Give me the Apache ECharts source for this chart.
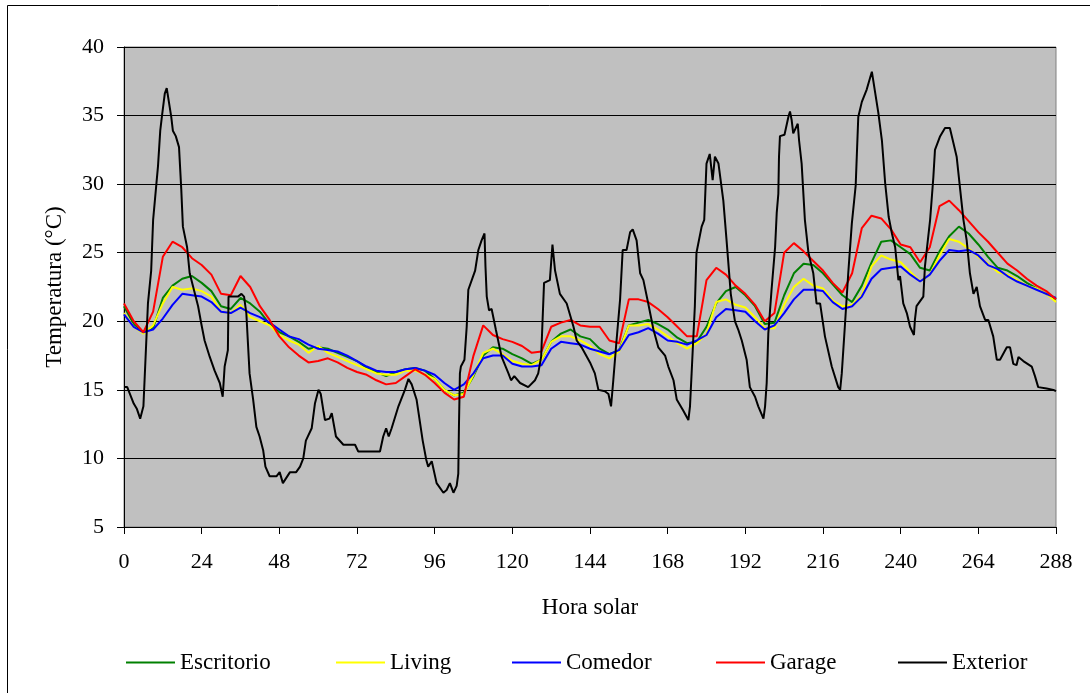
<!DOCTYPE html>
<html>
<head>
<meta charset="utf-8">
<script src="https://cdn.jsdelivr.net/npm/echarts@6/dist/echarts.min.js"></script>
<style>
  html, body { margin: 0; padding: 0; background: #fff; }
  #chart { width: 1090px; height: 693px; }
</style>
</head>
<body>
<div id="chart"></div>
<script>
// horas cada 3 h para las series interiores
var hours3 = [];
for (var h = 0; h <= 288; h += 3) hours3.push(h);

var escritorio = [
  21.1, 19.8, 19.2, 19.5, 21.7, 22.6, 23.1, 23.3, 22.8, 22.2, 21.1, 20.9, 21.7, 21.3, 20.7, 19.8, 19.2,
  18.9, 18.5, 18.0, 18.1, 18.0, 17.7, 17.4, 17.1, 16.6, 16.3, 16.0, 16.3, 16.5, 16.6, 16.4, 15.8,
  15.0, 14.6, 14.8, 16.0, 17.5, 18.1, 18.0, 17.6, 17.3, 16.9, 17.2, 18.5, 19.1, 19.4, 18.9, 18.7,
  18.0, 17.6, 17.9, 19.7, 19.9, 20.1, 19.8, 19.4, 18.8, 18.4, 18.5, 19.6, 21.3, 22.2, 22.5, 21.9,
  21.1, 19.8, 19.9, 21.9, 23.5, 24.2, 24.1, 23.5, 22.7, 21.9, 21.4, 22.6, 24.3, 25.8, 25.9, 25.4,
  24.9, 23.9, 23.7, 25.1, 26.2, 26.9, 26.4, 25.6, 24.7, 23.9, 23.7, 23.3, 22.8, 22.4, 22.0, 21.6
];
var living = [
  20.6, 19.6, 19.1, 19.7, 21.3, 22.5, 22.3, 22.4, 22.2, 21.8, 20.7, 20.6, 21.2, 20.3, 20.0, 19.7, 19.0,
  18.6, 18.3, 17.7, 18.2, 17.7, 17.4, 17.1, 16.8, 16.5, 16.2, 16.1, 16.1, 16.4, 16.4, 16.1, 15.8,
  15.0, 14.6, 14.7, 16.1, 17.7, 18.0, 17.6, 17.1, 16.9, 16.8, 17.2, 18.5, 18.9, 18.9, 18.6, 18.2,
  17.6, 17.3, 17.8, 19.7, 19.7, 19.8, 19.4, 18.9, 18.4, 18.0, 18.4, 19.1, 21.4, 21.6, 21.2, 21.0,
  20.3, 19.5, 19.5, 21.2, 22.5, 23.1, 22.6, 22.4, 21.5, 21.1, 21.2, 21.9, 24.0, 24.8, 24.5, 24.3,
  23.6, 22.9, 23.4, 24.8, 26.0, 25.8, 25.3, 24.7, 24.2, 23.6, 23.4, 23.0, 22.6, 22.4, 22.0, 21.4
];
var comedor = [
  20.5, 19.6, 19.2, 19.4, 20.2, 21.2, 22.0, 21.9, 21.8, 21.4, 20.7, 20.6, 21.0, 20.6, 20.3, 19.9, 19.4,
  18.9, 18.7, 18.3, 18.0, 17.9, 17.8, 17.5, 17.1, 16.7, 16.4, 16.3, 16.3, 16.5, 16.6, 16.4, 16.1,
  15.5, 15.0, 15.4, 16.2, 17.3, 17.5, 17.5, 16.9, 16.7, 16.7, 16.8, 18.0, 18.5, 18.4, 18.3, 18.0,
  17.8, 17.6, 17.9, 19.0, 19.2, 19.5, 19.1, 18.6, 18.5, 18.3, 18.6, 19.0, 20.3, 20.9, 20.8, 20.7,
  20.0, 19.4, 19.7, 20.6, 21.6, 22.3, 22.3, 22.2, 21.4, 20.9, 21.1, 21.8, 23.1, 23.8, 23.9, 24.0,
  23.4, 22.9, 23.4, 24.4, 25.2, 25.1, 25.2, 24.8, 24.1, 23.8, 23.3, 22.9, 22.6, 22.3, 22.0, 21.7
];
var garage = [
  21.3, 20.0, 19.2, 20.7, 24.7, 25.8, 25.4, 24.6, 24.1, 23.4, 22.0, 21.9, 23.3, 22.5, 21.1, 20.1, 18.9,
  18.1, 17.5, 17.0, 17.1, 17.3, 17.0, 16.6, 16.3, 16.1, 15.7, 15.4, 15.5, 16.0, 16.5, 16.1, 15.5,
  14.8, 14.3, 14.5, 17.5, 19.7, 19.0, 18.7, 18.5, 18.2, 17.7, 17.8, 19.6, 19.9, 20.1, 19.7, 19.6,
  19.6, 18.6, 18.4, 21.6, 21.6, 21.4, 20.9, 20.3, 19.6, 18.9, 18.9, 23.0, 23.9, 23.4, 22.6, 22.0,
  21.2, 20.0, 20.6, 25.0, 25.7, 25.1, 24.4, 23.7, 22.8, 22.1, 23.5, 26.8, 27.7, 27.5, 26.7, 25.6,
  25.4, 24.3, 25.4, 28.4, 28.8, 28.1, 27.3, 26.5, 25.8, 25.0, 24.2, 23.7, 23.1, 22.6, 22.2, 21.6
];

// exterior: puntos (hora, temperatura)
var extHours = [
  0, 1, 2, 3, 4, 5, 6,
  7.4, 8.4, 9, 10, 10.5, 11.2, 11.7, 12.6, 13.2, 13.8,
  14.6, 15.1, 16, 17, 17.7, 18.2, 19.5, 20.3, 21.6, 22.9,
  23.9, 24.9, 26.5, 28, 29.6, 30.5, 31.1, 32.1, 32.3, 35.2,
  36.3, 37.1, 37.8, 38.8, 39.9, 40.9, 41.9, 43, 43.7, 45,
  47.1, 48.1, 49.1, 51.3, 53.2, 54.4, 55.4, 56.2, 58, 59,
  60.1, 60.8, 61.6, 62.1, 63.5, 64.2, 65.5, 67.8, 71.4, 72.4,
  79.1, 80.1, 81, 81.8, 82.7, 84.8, 86.8, 87.9, 88.9, 90.4,
  92.3, 93.4, 94, 95.1, 96.6, 98.7, 99.7, 100.7, 101.8, 102.8,
  103.3, 103.5, 103.8, 104.1, 105.2, 105.9, 106.4, 108.5, 109.5, 110.5,
  111.4, 111.7, 112.1, 112.8, 113.6, 114.9, 116.7, 118.8, 119.6, 120.6,
  122.4, 124.9, 127, 128, 128.9, 129.3, 129.8, 131.6, 132.4, 133.2,
  134.7, 136.8, 138.9, 139.9, 141.4, 144, 145.5, 146.6, 148.6, 149.7,
  150.5, 151.2, 152.2, 153.3, 154.1, 155.3, 156.4, 157.2, 158.4, 159.5,
  160.5, 162, 163.6, 165.1, 167.2, 168.2, 169.8, 170.8, 172.8, 174.4,
  174.9, 175.4, 176.4, 176.9, 178.5, 179.3, 180, 181, 181.9, 182.6,
  183.7, 185.2, 186.2, 187.5, 188.8, 189.8, 190.9, 192.4, 193.4, 195,
  196, 197.6, 198.1, 198.6, 199.1, 200.1, 201.2, 201.7, 202.2, 202.4,
  202.7, 204.1, 205.3, 205.8, 206.3, 206.8, 207.3, 208.2, 208.6, 209.4,
  210.4, 211.5, 213, 214, 215.1, 216.6, 218.7, 220.7, 221.3, 221.8,
  222.8, 223.8, 224.9, 226.1, 226.9, 228, 229.5, 230.6, 231.1, 231.6,
  233.1, 234.2, 235.2, 236.3, 237.3, 238.3, 239.3, 239.8, 240.8, 241.9,
  242.9, 244.1, 244.4, 244.9, 247, 247.5, 249.1, 250.1, 250.6, 252.2,
  253.7, 255.2, 256.3, 257.3, 258.3, 259.4, 260.4, 261.4, 262.5, 263.5,
  264.5, 266.1, 267.1, 268.6, 269.7, 270.7, 272.8, 273.8, 274.8, 275.8,
  276.4, 277.9, 280.5, 281.5, 282.5, 285.1, 287.2, 288
];
var extTemp = [
  15.2, 15.2, 14.6, 14.0, 13.6, 12.9, 13.8,
  21.3, 23.7, 27.4, 30.0, 31.3, 33.9, 34.9, 36.6, 37.0, 36.9,
  34.9, 33.9, 33.5, 32.7, 29.6, 26.9, 25.4, 23.5, 22.3, 21.1,
  19.8, 18.6, 17.4, 16.4, 15.5, 14.5, 16.7, 17.9, 21.8, 21.8,
  22.0, 21.8, 20.6, 16.2, 14.3, 12.3, 11.6, 10.6, 9.4, 8.7,
  8.7, 9.0, 8.2, 9.0, 9.0, 9.4, 10.0, 11.3, 12.2, 14.0,
  15.0, 14.7, 13.5, 12.8, 12.9, 13.3, 11.6, 11.0, 11.0, 10.5,
  10.5, 11.6, 12.2, 11.6, 12.2, 13.8, 15.0, 15.8, 15.4, 14.3,
  11.3, 9.9, 9.4, 9.8, 8.2, 7.5, 7.7, 8.2, 7.5, 8.0,
  8.9, 12.3, 16.2, 16.7, 17.2, 19.6, 22.3, 23.7, 25.2, 25.9,
  26.4, 24.0, 21.8, 20.8, 20.9, 19.4, 17.4, 16.2, 15.7, 16.0,
  15.5, 15.2, 15.7, 16.2, 17.4, 19.8, 22.8, 23.0, 25.6, 23.7,
  22.0, 21.3, 19.6, 18.6, 18.1, 17.0, 16.2, 15.0, 14.9, 14.7,
  13.8, 15.7, 18.6, 21.6, 25.2, 25.2, 26.5, 26.7, 25.9, 23.5,
  23.0, 21.3, 19.4, 18.1, 17.5, 16.7, 15.7, 14.3, 13.5, 12.8,
  13.8, 16.2, 21.1, 25.0, 26.9, 27.4, 31.5, 32.2, 30.3, 32.0,
  31.5, 28.8, 25.9, 22.0, 20.0, 19.4, 18.6, 17.2, 15.2, 14.5,
  13.8, 12.9, 13.8, 15.5, 19.1, 22.3, 25.4, 27.9, 29.3, 32.0,
  33.5, 33.6, 34.9, 35.3, 34.7, 33.7, 33.6, 34.4, 33.2, 31.5,
  27.4, 25.0, 23.5, 21.3, 21.3, 18.9, 16.7, 15.2, 15.0, 16.2,
  19.8, 23.5, 27.1, 29.9, 34.9, 36.0, 36.9, 37.8, 38.2, 38.1,
  35.2, 33.2, 30.1, 27.6, 26.4, 25.4, 23.0, 23.3, 21.3, 20.6,
  19.6, 19.0, 20.1, 21.1, 21.8, 24.0, 27.4, 30.5, 32.5, 33.5,
  34.1, 34.1, 33.0, 32.0, 29.8, 27.4, 25.9, 23.5, 22.0, 22.5,
  21.1, 20.1, 20.1, 18.9, 17.2, 17.2, 18.1, 18.1, 16.9, 16.8,
  17.4, 17.1, 16.7, 16.0, 15.2, 15.1, 15.0, 14.9
];

var names = ['Escritorio', 'Living', 'Comedor', 'Garage', 'Exterior'];
var colors = ['#008000', '#ffff00', '#0000ff', '#ff0000', '#000000'];
var legendLeft = [126, 336, 512, 716, 898];

var font = "'Liberation Serif', 'Times New Roman', serif";

function pairs(xs, ys) {
    return xs.map(function (x, i) { return [x, ys[i]]; });
}

var seriesData = [
    pairs(hours3, escritorio),
    pairs(hours3, living),
    pairs(hours3, comedor),
    pairs(hours3, garage),
    pairs(extHours, extTemp)
];

var myChart = echarts.init(document.getElementById('chart'), null, { renderer: 'canvas' });

var option = {
    animation: false,
    backgroundColor: '#fff',
    textStyle: { fontFamily: font },
    grid: {
        left: 124,
        top: 47,
        right: 34,
        bottom: 166,
        show: true,
        backgroundColor: '#c0c0c0',
        borderColor: '#808080',
        borderWidth: 1,
        outerBoundsMode: 'none'
    },
    xAxis: {
        type: 'value',
        min: 0,
        max: 288,
        interval: 24,
        name: 'Hora solar',
        nameLocation: 'middle',
        nameGap: 69,
        nameTextStyle: { fontFamily: font, fontSize: 23, color: '#000' },
        axisLine: { show: true, lineStyle: { color: '#000', width: 1 } },
        axisTick: { show: true, inside: false, length: 7, lineStyle: { color: '#000' } },
        axisLabel: { fontFamily: font, fontSize: 22, color: '#000', margin: 24, showMinLabel: true, showMaxLabel: true },
        splitLine: { show: false }
    },
    yAxis: {
        type: 'value',
        min: 5,
        max: 40,
        interval: 5,
        name: 'Temperatura (°C)',
        nameLocation: 'middle',
        nameRotate: 90,
        nameGap: 58,
        nameTextStyle: { fontFamily: font, fontSize: 23, color: '#000' },
        axisLine: { show: true, lineStyle: { color: '#000', width: 1 } },
        axisTick: { show: true, inside: false, length: 7, lineStyle: { color: '#000' } },
        axisLabel: { fontFamily: font, fontSize: 22, color: '#000', margin: 20, showMinLabel: true, showMaxLabel: true },
        splitLine: { show: true, lineStyle: { color: '#000', width: 1 } }
    },
    legend: names.map(function (n, i) {
        return {
            data: [n],
            left: legendLeft[i],
            top: 651,
            padding: 0,
            itemGap: 0,
            itemWidth: 49,
            itemHeight: 2,
            icon: 'rect',
            selectedMode: false,
            textStyle: { fontFamily: font, fontSize: 23, color: '#000' }
        };
    }),
    graphic: [{
        type: 'rect',
        silent: true,
        shape: { x: 7.5, y: 5.5, width: 1200, height: 800 },
        style: { fill: null, stroke: '#000', lineWidth: 1 }
    }],
    series: names.map(function (n, i) {
        return {
            name: n,
            type: 'line',
            data: seriesData[i],
            symbol: 'none',
            showSymbol: false,
            color: colors[i],
            lineStyle: { color: colors[i], width: 2 },
            itemStyle: { color: colors[i] },
            z: 2 + i
        };
    })
};
myChart.setOption(option);
</script>
</body>
</html>
